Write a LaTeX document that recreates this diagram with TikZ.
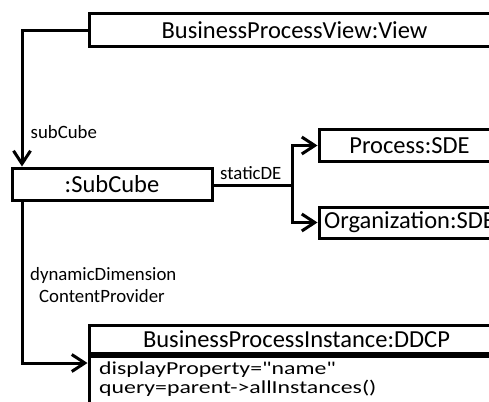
\documentclass[tikz,border=0pt]{standalone}
\usepackage{fontspec}
\setmainfont{Carlito}
\newfontfamily\attrfont[FakeStretch=1.3]{Carlito}
\usetikzlibrary{arrows.meta,calc}
\begin{document}
\begin{tikzpicture}[x=1pt,y=-1pt,
  box/.style={draw,line width=3pt,inner sep=0pt,font=\fontsize{24.5}{27}\selectfont},
  lbl/.style={inner sep=0pt,font=\fontsize{18.8}{20.5}\selectfont},
  attr/.style={inner sep=0pt,anchor=base west,font=\attrfont\fontsize{18.3}{20}\selectfont},
  conn/.style={line width=3pt,-{Straight Barb[length=13pt,width=17pt,line width=3pt]}},
  plain/.style={line width=3pt}]
\useasboundingbox (0,0) rectangle (489,401);
\begin{scope}
\clip (0,0) rectangle (489,401);
\node[box,minimum width=411pt,minimum height=32.5pt] (view) at (294.5,30.25) {BusinessProcessView:View};
\node[box,minimum width=200pt,minimum height=32.5pt] (sc) at (112,184.25) {:SubCube};
\node[box,minimum width=181pt,minimum height=32pt] (proc) at (409.5,145.5) {Process:SDE};
\node[box,minimum width=181pt,minimum height=31pt] (org) at (409.5,222.5) {Organization:SDE};
\node[box,minimum width=415pt,minimum height=28pt] (bpi) at (296.5,339) {BusinessProcessInstance:DDCP};
\node[draw,line width=3pt,inner sep=0pt,minimum width=415pt,minimum height=60pt,anchor=north] (bpiattr) at (bpi.south) {};
\end{scope}
\coordinate (c1) at (22,31);
\coordinate (c2) at (292,185);
\coordinate (c3) at (22,363);
\draw[conn] (view.west |- c1) -- (c1) -- (c1 |- sc.north);
\draw[plain] (sc.east |- c2) -- (c2);
\draw[conn] (c2) |- (proc.west);
\draw[conn] (c2) |- (org.west);
\draw[conn] (c1 |- sc.south) -- (c3) -- (c3 -| bpiattr.west);
\node[lbl,anchor=west] (l1) at (30.5,132) {subCube};
\node[lbl,anchor=west] (l2) at (220,173) {staticDE};
\node[lbl,anchor=west] (l3) at (30,275) {dynamicDimension};
\node[lbl,anchor=west] (l4) at (39,296) {ContentProvider};
\node[attr] (a1) at (99,374) {displayProperty=\symbol{34}name\symbol{34}};
\node[attr] (a2) at (99,393) {query=parent->allInstances()};
\end{tikzpicture}
\end{document}
